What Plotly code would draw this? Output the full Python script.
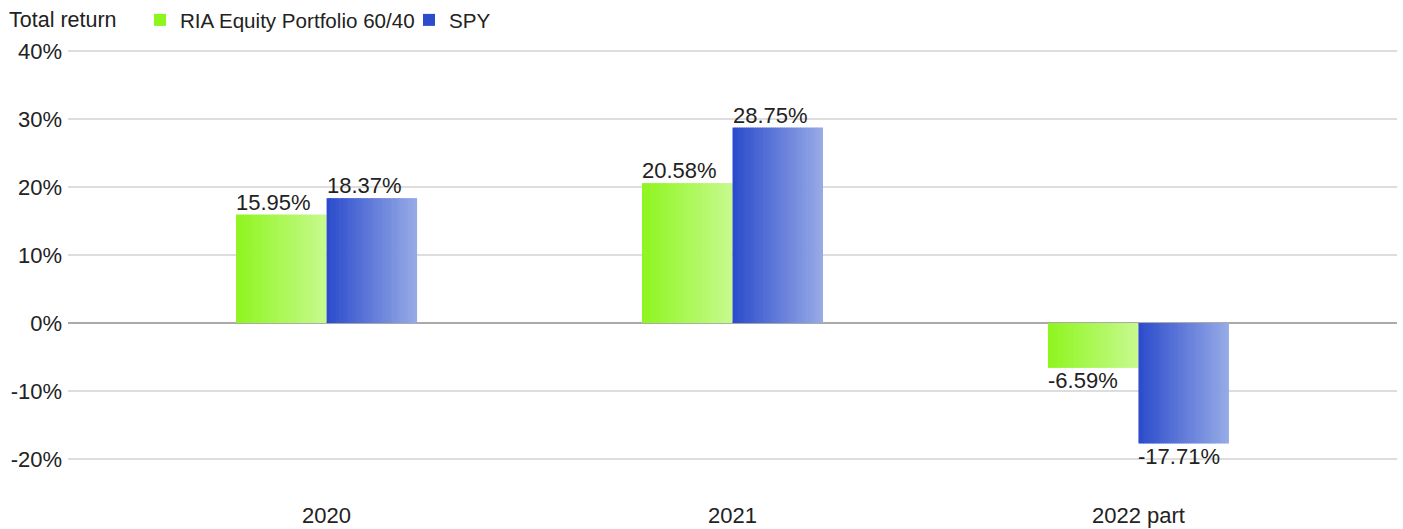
import plotly.graph_objects as go

categories = ["2020", "2021", "2022 part"]
series_names = ["RIA Equity Portfolio 60/40", "SPY"]
ria_values = [0.1595, 0.2058, -0.0659]
spy_values = [0.1837, 0.2875, -0.1771]
y_ticks = [-0.2, -0.1, 0, 0.1, 0.2, 0.3, 0.4]
y_tick_labels = ["-20%", "-10%", "0%", "10%", "20%", "30%", "40%"]

# gradient colours (left -> right) per series
grad = [((143, 245, 31), (198, 250, 142)), ((44, 76, 204), (150, 170, 230))]

bar_w = 0.223
N = 40
xs = list(range(len(categories)))
FS = 22

fig = go.Figure()
for s, (name, vals) in enumerate(zip(series_names, [ria_values, spy_values])):
    c0, c1 = grad[s]
    for k in range(N):
        t = k / (N - 1)
        col = "rgb(%d,%d,%d)" % tuple(round(a + (b - a) * t) for a, b in zip(c0, c1))
        off = -bar_w + s * bar_w + k * bar_w / N
        fig.add_trace(go.Bar(
            x=xs, y=vals, name=name, legendgroup=name, showlegend=(k == 0),
            marker=dict(color=col, line=dict(width=0)),
            width=bar_w / N * 1.3 if k < N - 1 else bar_w / N,
            offset=off, hoverinfo="skip",
        ))
    for i, v in enumerate(vals):
        left = i - bar_w + s * bar_w
        fig.add_annotation(
            x=left, y=v, xref="x", yref="y",
            text="%.2f%%" % (v * 100), showarrow=False,
            xanchor="left", yanchor="bottom" if v >= 0 else "top",
            xshift=-2, yshift=-2 if v >= 0 else 2,
            font=dict(size=FS, color="#222222"),
        )

fig.add_annotation(
    x=0, y=1, xref="paper", yref="paper", xshift=-61, yshift=29,
    text="Total return", showarrow=False, xanchor="left", yanchor="middle",
    font=dict(size=21.5, color="#222222"),
)

fig.update_layout(
    width=1403, height=529,
    barmode="overlay",
    plot_bgcolor="white", paper_bgcolor="white",
    font=dict(family="Liberation Sans, Arial, sans-serif", size=FS, color="#222222"),
    margin=dict(l=68, r=6, t=49, b=26, autoexpand=False),
    legend=dict(orientation="h", x=140 / 1403, y=1 - 20 / 529, xanchor="left", yanchor="middle",
                xref="container", yref="container", font=dict(size=20.6, color="#222222"),
                itemwidth=30, entrywidth=224, entrywidthmode="pixels",
                traceorder="normal", bgcolor="rgba(0,0,0,0)"),
    showlegend=True,
    xaxis=dict(range=[-0.637, 2.637], tickmode="array", tickvals=xs, ticktext=categories,
               showgrid=False, zeroline=False, showline=False, ticks="", automargin=False,
               ticklabelstandoff=-3, tickfont=dict(size=FS)),
    yaxis=dict(range=[-0.2646, 0.403], tickmode="array", tickvals=y_ticks, ticktext=y_tick_labels,
               showgrid=True, gridcolor="#dddddd", gridwidth=2, automargin=False,
               zeroline=True, zerolinecolor="#aaaaaa", zerolinewidth=2, ticklabelstandoff=5,
               showline=False, ticks="", tickfont=dict(size=FS), layer="above traces"),
)

fig.write_html("out.html", config={"displayModeBar": False},
               post_script="document.body.style.margin='0';")
